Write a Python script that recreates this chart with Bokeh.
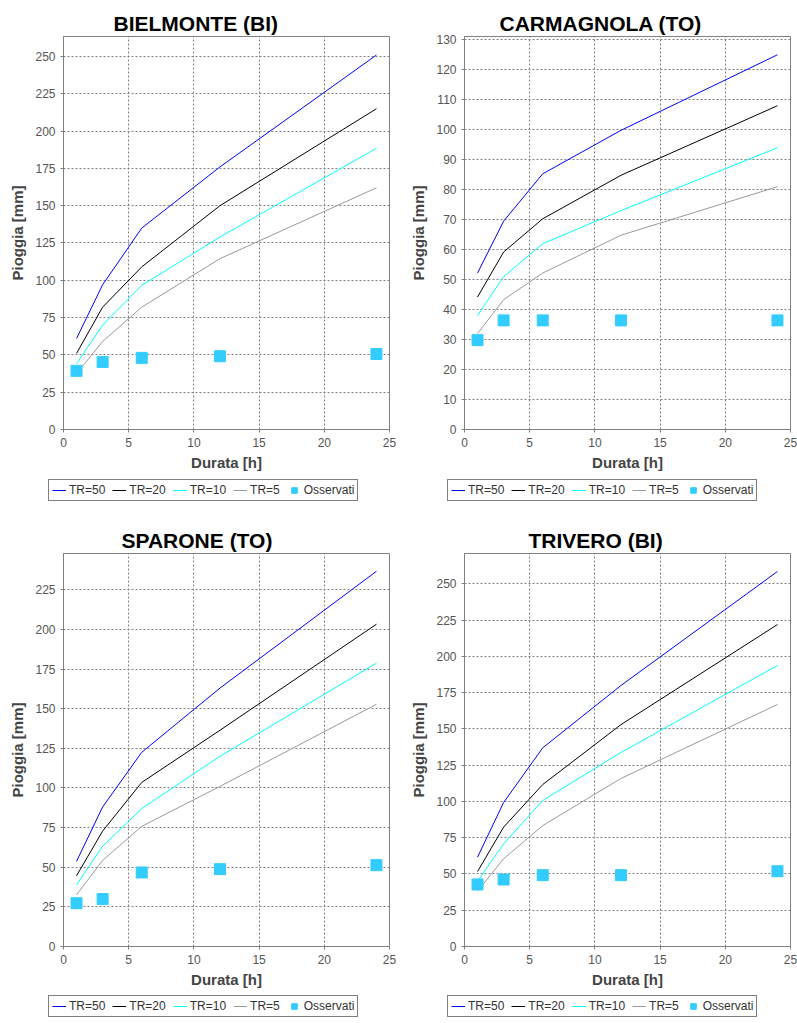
from bokeh.plotting import figure
from bokeh.models import Legend, LegendItem, Range1d, SingleIntervalTicker
from bokeh.layouts import column, row
from bokeh.embed import file_html
from bokeh.resources import INLINE

durate = [1, 3, 6, 12, 24]
serie_labels = ["TR=50", "TR=20", "TR=10", "TR=5"]
obs_label = "Osservati"

bielmonte_tr50 = [61, 97, 135, 176, 251]
bielmonte_tr20 = [51, 82, 109, 150, 215]
bielmonte_tr10 = [44, 70, 96.6, 129, 188.5]
bielmonte_tr5 = [37.5, 59, 82, 114.5, 162]
bielmonte_obs = [39.3, 45.3, 48, 49.1, 50.6]

carmagnola_tr50 = [52.2, 69.5, 85.3, 99.8, 125]
carmagnola_tr20 = [44.2, 59.2, 70.3, 84.8, 108]
carmagnola_tr10 = [38, 51, 62, 73, 94]
carmagnola_tr5 = [32, 43.3, 52.2, 64.8, 81]
carmagnola_obs = [29.8, 36.4, 36.4, 36.4, 36.4]

sparone_tr50 = [53.7, 88, 122.5, 163, 236.7]
sparone_tr20 = [44.6, 72.8, 103.5, 136.4, 203.3]
sparone_tr10 = [38.9, 63.3, 87, 120, 178.7]
sparone_tr5 = [32.6, 54.3, 75.8, 101, 152.8]
sparone_obs = [27.3, 29.9, 46.7, 48.8, 51.3]

trivero_tr50 = [61.6, 99.3, 137, 180, 258.6]
trivero_tr20 = [51.7, 82.3, 111.7, 153, 222]
trivero_tr10 = [45, 70.8, 100.7, 133.8, 193.8]
trivero_tr5 = [38.2, 60.5, 83.4, 115.9, 166.9]
trivero_obs = [42.8, 46.2, 49.2, 49.2, 51.9]

LINE_COLORS = ["#0000FF", "#000000", "#00FFFF", "#999999"]
OBS_COLOR = "#33CCFF"
FONT = "Liberation Sans"


def draw_series(p, series, obs, size):
    rs_list = []
    for vals, col in zip(series, LINE_COLORS):
        rs_list.append(p.line(durate, vals, line_color=col, line_width=1))
    rs_list.append(p.scatter(durate, obs, marker="square", size=size,
                             fill_color=OBS_COLOR, line_color=OBS_COLOR))
    return rs_list


def make_panel(title, series, obs, y_end, y_step, width, chart_h, leg_h,
               border_left, border_top, border_right, title_offset,
               leg_x, leg_y):
    border_bottom = chart_h - border_top - 393
    p = figure(width=width, height=chart_h, output_backend="svg",
               toolbar_location=None,
               x_range=Range1d(0, 25), y_range=Range1d(0, y_end),
               min_border_left=border_left, min_border_top=border_top,
               min_border_bottom=border_bottom, min_border_right=border_right)
    p.title.text = title
    p.title.text_font = FONT
    p.title.text_font_size = "21px"
    p.title.text_font_style = "bold"
    p.title.text_color = "#000000"
    p.title.align = "left"
    p.title.offset = title_offset
    p.title.standoff = 4

    draw_series(p, series, obs, 11)

    p.xaxis.ticker = SingleIntervalTicker(interval=5)
    p.yaxis.ticker = SingleIntervalTicker(interval=y_step)
    p.xaxis.axis_label = "Durata [h]"
    p.yaxis.axis_label = "Pioggia [mm]"
    for ax in (p.xaxis[0], p.yaxis[0]):
        ax.axis_label_text_font = FONT
        ax.axis_label_text_font_size = "15px"
        ax.axis_label_text_font_style = "bold"
        ax.axis_label_text_color = "#444444"
        ax.major_label_text_font = FONT
        ax.major_label_text_font_size = "12px"
        ax.major_label_text_color = "#555555"
        ax.axis_line_color = "#808080"
        ax.major_tick_line_color = "#808080"
        ax.major_tick_out = 3
        ax.major_tick_in = 0
        ax.minor_tick_line_color = None
        ax.major_label_standoff = 4
    p.xaxis.axis_label_standoff = 4
    p.yaxis.axis_label_standoff = 6

    p.grid.grid_line_color = "#808080"
    p.grid.grid_line_dash = "2 2"
    p.grid.grid_line_width = 1
    p.outline_line_color = "#808080"
    p.background_fill_color = "#FFFFFF"
    p.border_fill_color = "#FFFFFF"

    # legend strip: same series, drawn outside its visible range, only the legend shows
    lg = figure(width=width, height=leg_h, output_backend="svg",
                toolbar_location=None, x_axis_location=None,
                y_axis_location=None,
                x_range=Range1d(0, 25), y_range=Range1d(-1000, -900),
                min_border=0, min_border_left=0, min_border_right=0,
                min_border_top=0, min_border_bottom=0)
    lg.grid.visible = False
    lg.outline_line_color = None
    rends = draw_series(lg, series, obs, 11)
    labels = serie_labels + [obs_label]
    items = [LegendItem(label=l, renderers=[r]) for l, r in zip(labels, rends)]
    legend = Legend(items=items, orientation="horizontal",
                    location=(leg_x, leg_y),
                    label_text_font=FONT, label_text_font_size="12px",
                    label_text_color="#333333",
                    glyph_width=14, glyph_height=14, label_standoff=3,
                    spacing=7, padding=3, margin=0,
                    border_line_color="#000000", border_line_width=1,
                    background_fill_color="#FFFFFF", background_fill_alpha=1)
    lg.add_layout(legend, "center")
    return column(row(p), row(lg))


c1 = make_panel("BIELMONTE (BI)",
                [bielmonte_tr50, bielmonte_tr20, bielmonte_tr10, bielmonte_tr5],
                bielmonte_obs, 263.4, 25, 400, 475, 35, 63, 36, 11, 50, 48, 9)
c2 = make_panel("CARMAGNOLA (TO)",
                [carmagnola_tr50, carmagnola_tr20, carmagnola_tr10, carmagnola_tr5],
                carmagnola_obs, 131.1, 10, 397, 475, 35, 64, 36, 7, 35, 47, 9)
c3 = make_panel("SPARONE (TO)",
                [sparone_tr50, sparone_tr20, sparone_tr10, sparone_tr5],
                sparone_obs, 247.9, 25, 400, 482, 31, 63, 43, 11, 58, 48, 6)
c4 = make_panel("TRIVERO (BI)",
                [trivero_tr50, trivero_tr20, trivero_tr10, trivero_tr5],
                trivero_obs, 271, 25, 397, 482, 31, 64, 43, 7, 64, 47, 6)

layout = column(row(c1, c2), row(c3, c4))
open("out.html", "w").write(file_html(layout, INLINE))
